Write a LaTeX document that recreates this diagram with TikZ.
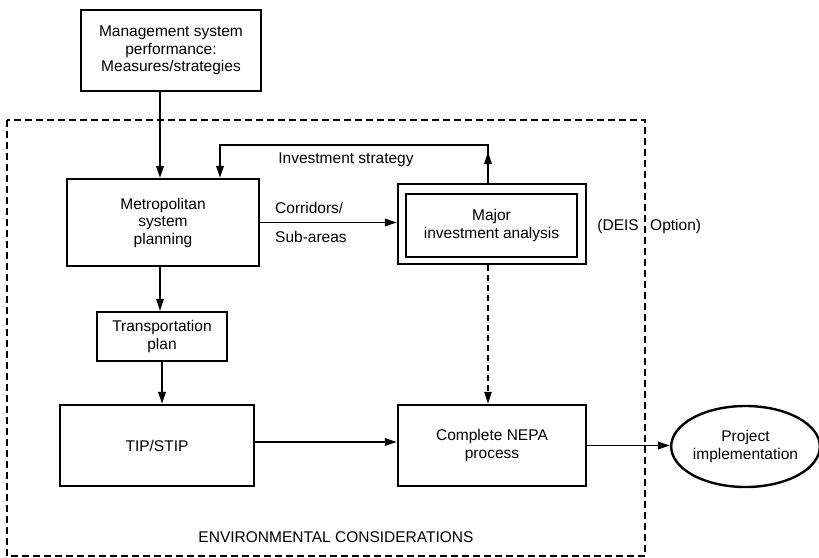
\documentclass[tikz,border=0pt]{standalone}
\usepackage{fontspec}
\setmainfont{Liberation Sans}
\usetikzlibrary{arrows.meta,shapes.geometric}
\begin{document}
\begin{tikzpicture}[x=1pt,y=-1pt,
  every node/.style={font=\fontsize{15.5}{17.5}\selectfont, align=center, inner sep=0pt},
  box/.style={draw, line width=2.4pt, rectangle},
  label/.style={font=\fontsize{15.5}{17.5}\selectfont},
  arr/.style={line width=1.8pt, -{Triangle[length=12pt,width=7.5pt]}},
  border/.style={line width=1.5pt, dash pattern=on 7pt off 4pt},
  dasharr/.style={line width=1.5pt, dash pattern=on 6pt off 4pt, -{Triangle[length=12pt,width=7.5pt]}}
]
\useasboundingbox (0,0) rectangle (819,557);

% environmental considerations frame
\draw[border] (7,120) rectangle (645,556);

% boxes
\node[box, minimum width=180pt, minimum height=81pt] (top) at (171,50.5)
  {Management system\\performance:\\Measures/strategies};
\node[box, minimum width=192pt, minimum height=87pt] (metro) at (163,222.5)
  {Metropolitan\\system\\planning};
\node[box, minimum width=130pt, minimum height=49pt] (trans) at (162,336.5)
  {Transportation\\plan};
\node[box, minimum width=194pt, minimum height=81pt] (tip) at (157,445.5)
  {TIP/STIP};
\node[box, minimum width=188pt, minimum height=80pt] (major) at (492,224) {};
\node[box, minimum width=171pt, minimum height=63pt] (majin) at (491.5,225.5)
  {Major\\investment analysis};
\node[box, minimum width=188pt, minimum height=81pt] (nepa) at (492,445.5)
  {Complete NEPA\\process};
\node[draw, ellipse, line width=2.4pt, minimum width=143pt, minimum height=81pt] (proj) at (745.5,446.5)
  {Project\\implementation};

% reference columns and rows for connectors
\coordinate (xa) at (160,0);
\coordinate (xb) at (220,0);
\coordinate (xm) at (488,0);
\coordinate (yloop) at (0,145);
\coordinate (yup) at (0,152);
\coordinate (ytip) at (0,442);

% connectors
\draw[arr] (top.south -| xa) -- (metro.north -| xa);
\draw[arr] (metro.south -| xa) -- (trans.north -| xa);
\draw[arr] (trans.south) -- (trans.south |- tip.north);
\draw[arr] (tip.east |- ytip) -- (nepa.west |- ytip);
\draw[arr] (nepa.east) -- (nepa.east -| proj.west);
\draw[arr] (metro.east) -- (metro.east -| major.west);
\draw[arr] (major.north -| xm) -- (xm |- yup);
\draw[arr] (major.north -| xm) -- (xm |- yloop) -- (xb |- yloop) -- (metro.north -| xb);
\draw[dasharr] (major.south -| xm) -- (nepa.north -| xm);

% labels
\node[label, anchor=west] (corr) at (275,208) {Corridors/};
\node[label, anchor=west] (sub) at (275,237) {Sub-areas};
\node[label] (invest) at (346,160) {Investment strategy};
\node[label, anchor=east] (deis) at (639,226) {(DEIS};
\node[label, anchor=west] (opt) at (650,226) {Option)};
\node[label] (env) at (336,537) {ENVIRONMENTAL CONSIDERATIONS};
\end{tikzpicture}
\end{document}
